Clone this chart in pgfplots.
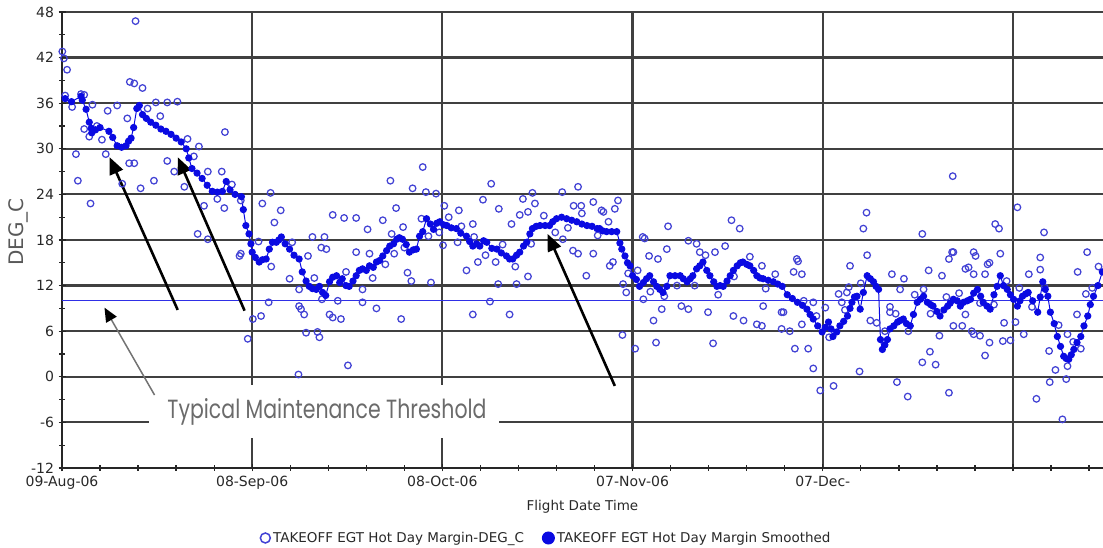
\documentclass[border=0pt]{standalone}
\usepackage{pgfplots}
\pgfplotsset{compat=1.18}
\usepackage{pgfplotstable}
\usepackage{fontspec}
\setmainfont{DejaVu Sans}
\newfontfamily\pop{Poppins}
\usetikzlibrary{arrows.meta}
\definecolor{rawblue}{RGB}{66,66,212}
\definecolor{smblue}{RGB}{10,10,226}
\definecolor{gridc}{RGB}{64,64,64}
\definecolor{txt}{RGB}{40,40,40}

\pgfplotstableread{
x y
0.05 42.8
0.3 41.9
0.8 40.4
0.5 37.0
1.6 35.5
3.0 37.2
3.5 37.1
4.8 35.8
3.5 32.6
4.3 31.6
2.2 29.3
2.5 25.8
4.5 22.8
7.2 35.0
8.7 35.7
10.3 34.0
10.7 38.8
11.4 38.6
12.7 38.0
11.6 46.8
6.9 29.3
10.6 28.1
11.4 28.1
9.5 25.4
12.4 24.8
14.5 25.8
14.8 36.1
16.6 36.1
18.2 36.2
16.6 28.4
17.7 27.0
19.3 25.0
21.6 30.3
25.7 32.2
25.2 27.0
22.4 22.5
25.6 22.2
21.4 18.8
23.0 18.1
28.0 15.9
28.2 23.2
31.6 22.8
32.9 24.2
34.5 21.9
33.5 20.3
28.2 16.2
32.6 9.8
31.4 8.0
30.1 7.6
29.3 5.0
35.9 12.9
38.8 15.9
39.5 18.4
41.4 18.4
40.9 17.0
41.7 16.8
42.7 21.3
44.5 20.9
46.4 20.9
48.2 19.4
50.6 20.6
51.8 25.8
52.7 22.2
53.8 19.7
56.9 27.6
55.3 24.8
56.7 20.8
46.4 16.4
48.5 16.2
52.4 16.2
37.4 11.5
37.4 9.3
38.2 8.2
42.2 8.2
44.0 7.6
38.5 5.8
40.3 5.9
40.6 5.2
37.3 0.3
45.1 1.5
43.5 10.0
47.4 11.5
47.4 9.8
49.6 9.0
53.5 7.6
54.5 13.7
55.1 12.6
37.7 8.9
42.7 7.8
57.4 24.3
59.0 24.1
60.3 22.5
62.6 21.9
64.8 20.1
66.4 23.3
67.7 25.4
68.9 22.1
70.9 20.1
72.2 21.3
72.7 23.4
73.5 21.7
74.2 24.2
74.6 22.8
78.9 24.3
81.4 25.0
80.7 22.5
81.9 22.5
83.8 23.0
85.1 21.9
79.0 18.1
80.6 16.6
81.4 16.2
83.8 16.2
82.7 13.3
60.1 17.3
62.4 17.7
63.8 14.0
65.6 15.1
68.4 15.1
73.5 13.2
58.2 12.4
68.8 12.2
71.7 12.2
67.5 9.9
64.8 8.2
70.6 8.2
87.7 23.2
87.2 22.1
85.4 21.7
95.6 19.8
91.9 18.2
98.8 17.9
100.1 17.5
100.6 16.4
95.4 16.8
92.6 15.9
94.0 15.5
103.0 16.4
104.6 17.2
105.6 20.6
106.9 19.5
86.9 15.1
86.4 14.6
88.5 12.2
89.0 11.1
91.7 10.2
94.6 8.9
97.7 9.3
98.8 8.9
101.9 8.5
105.9 8.0
107.5 7.4
109.6 6.9
110.6 9.3
110.4 14.6
113.5 8.5
93.3 7.4
88.4 5.5
90.4 3.7
93.7 4.5
102.7 4.4
113.5 6.3
91.6 18.4
140.5 26.4
126.9 21.6
126.4 19.5
135.7 18.8
127.0 16.0
115.9 15.5
115.4 13.8
116.7 13.5
124.3 14.6
130.9 13.5
132.8 12.9
132.2 11.5
136.7 14.0
138.8 13.3
140.4 16.4
139.9 15.5
135.9 11.5
130.6 8.5
127.5 7.4
128.5 7.1
122.5 10.9
123.0 9.8
124.1 11.8
113.8 8.5
114.8 6.0
116.7 6.9
118.5 9.8
120.4 9.1
115.6 3.7
117.7 3.7
118.5 1.1
119.6 -1.8
121.7 -1.2
125.8 0.7
131.7 -0.7
133.4 -2.6
139.9 -2.1
135.7 1.9
136.9 3.3
137.8 1.6
138.4 5.4
142.5 14.2
147.2 20.1
147.8 19.5
150.7 22.3
154.9 19.0
140.6 16.4
143.8 16.4
148.0 16.2
154.3 15.7
161.7 16.4
143.0 14.4
143.8 13.5
146.3 15.0
145.6 13.5
154.3 14.1
152.5 13.5
160.2 13.8
161.5 10.9
160.1 8.2
142.5 8.2
142.0 6.7
143.5 6.0
144.8 5.4
146.3 4.5
145.6 2.8
148.6 7.1
150.4 7.2
148.4 4.7
149.6 4.8
151.7 5.6
158.6 5.6
160.7 3.7
155.7 3.4
156.7 0.9
155.8 -0.7
158.4 -0.3
153.7 -2.9
157.8 -5.6
158.6 1.4
110.4 6.7
116.1 15.2
140.6 6.7
143.8 5.6
130.6 9.2
123.8 11.1
144.1 15.9
146.0 14.8
5.5 33.0
6.3 31.2
13.5 35.3
15.5 34.3
19.8 31.3
20.8 29.0
23.0 27.0
24.5 23.4
26.8 25.3
31.0 17.8
33.0 14.5
36.3 17.7
39.8 13.0
41.0 10.2
44.8 13.8
49.0 13.0
51.0 14.8
52.0 18.8
54.0 17.0
57.8 18.5
59.5 19.0
61.0 21.0
63.0 19.8
65.0 18.4
66.8 16.0
69.5 17.4
71.5 14.5
74.0 17.5
76.0 21.2
77.8 19.0
79.8 19.6
82.0 21.5
84.5 18.6
86.2 20.4
89.3 13.6
90.8 14.0
92.8 11.2
95.0 10.6
97.0 12.0
99.8 12.0
101.5 16.0
103.5 10.8
106.0 13.2
108.5 15.8
111.0 11.6
112.5 13.5
117.0 10.0
119.0 8.0
121.0 5.2
123.5 8.8
126.0 12.3
129.8 6.0
131.5 8.3
133.5 6.0
134.5 10.8
137.0 8.3
139.5 10.5
141.5 11.0
144.8 9.7
147.0 9.5
149.0 12.6
151.0 11.7
153.0 9.2
155.0 11.8
157.2 6.8
159.5 4.6
162.5 11.7
163.5 14.5
}\rawdata

\pgfplotstableread{
x y
0.5 36.6
1.5 36.2
3.0 36.9
3.2 36.4
3.8 35.2
4.3 33.5
4.6 32.7
4.7 32.1
5.3 32.5
6.0 32.8
7.4 32.3
8.0 31.5
8.7 30.4
9.4 30.2
10.1 30.4
10.5 31.0
10.9 31.4
11.3 32.8
11.8 35.3
12.2 35.7
12.7 34.5
13.3 34.0
14.0 33.5
14.8 33.1
15.6 32.6
16.4 32.3
17.2 31.9
18.0 31.4
18.8 30.9
19.6 30.0
20.0 28.8
20.5 27.4
21.3 26.8
22.1 26.1
22.9 25.2
23.7 24.4
24.5 24.3
25.3 24.4
25.9 25.7
26.5 24.6
27.3 24.0
28.3 23.7
28.6 22.0
29.0 19.9
29.5 18.8
29.8 17.5
30.0 16.4
30.5 15.7
31.1 15.1
31.6 15.4
32.2 15.5
32.7 16.8
33.2 17.7
33.8 17.7
34.2 18.0
34.6 18.4
35.2 17.5
35.9 16.8
36.6 16.0
37.4 15.5
37.9 13.8
38.5 12.6
39.0 11.9
39.5 11.6
40.1 11.5
40.6 11.9
41.1 11.1
41.6 10.7
42.2 12.5
42.7 13.1
43.3 13.3
43.8 12.4
44.2 12.9
44.8 12.0
45.3 11.9
45.9 12.6
46.4 13.3
46.9 14.0
47.4 14.2
48.0 14.0
48.5 14.6
49.1 14.4
49.6 15.1
50.1 15.3
50.6 15.9
51.2 16.6
51.7 17.2
52.3 17.5
52.8 18.1
53.2 18.3
53.7 18.1
54.3 17.4
54.8 16.4
55.4 16.7
55.9 16.8
56.4 18.5
56.9 19.1
57.5 20.8
58.1 20.1
58.6 19.4
59.1 20.2
59.6 20.4
60.2 20.0
60.7 19.9
61.4 19.6
62.2 19.5
62.9 18.9
63.8 18.5
64.3 17.8
64.8 17.2
65.4 17.5
65.9 17.2
66.5 17.9
67.0 17.7
67.8 16.9
68.6 16.8
69.3 16.3
70.1 15.9
70.6 15.5
71.1 15.5
71.7 16.0
72.2 16.4
72.8 17.2
73.3 17.7
73.8 18.8
74.2 19.5
74.8 19.8
75.4 19.9
76.2 19.9
76.9 19.9
77.4 20.4
78.0 20.8
78.8 21.0
79.6 20.8
80.4 20.6
81.2 20.4
82.0 20.1
82.8 19.9
83.6 19.8
84.4 19.5
84.8 19.5
85.3 19.2
85.9 19.1
86.7 19.1
87.5 19.1
88.0 17.6
88.3 16.8
88.8 15.9
89.2 15.0
89.6 14.6
90.0 13.3
90.6 12.8
91.1 11.9
91.7 12.4
92.2 12.9
92.7 13.3
93.3 12.5
93.8 11.9
94.3 11.5
94.8 11.1
95.4 11.9
95.9 13.3
96.7 13.3
97.5 13.3
98.0 12.9
98.6 12.5
99.1 12.9
99.5 13.3
100.1 14.2
100.6 14.6
101.1 15.1
101.7 14.0
102.2 13.3
102.8 12.5
103.3 11.9
103.8 12.0
104.3 11.9
104.9 12.6
105.4 13.3
105.9 14.0
106.5 14.6
107.0 15.0
107.4 15.1
108.0 14.8
108.5 14.6
109.1 14.0
109.6 13.3
110.1 13.0
110.6 12.9
111.4 12.7
112.2 12.5
112.9 12.2
113.6 11.9
114.4 10.8
115.2 10.3
116.0 9.8
116.8 9.4
117.5 8.9
118.0 8.2
118.5 7.6
119.2 6.7
119.9 5.9
120.4 6.5
120.9 7.2
121.3 6.3
121.6 5.3
122.2 5.9
122.7 6.7
123.3 7.3
123.9 8.0
124.3 9.0
124.6 9.8
125.0 10.5
125.4 10.6
125.9 8.9
126.4 11.1
127.0 13.3
127.5 12.9
128.0 12.5
128.4 11.9
128.8 11.5
129.1 4.9
129.4 3.6
129.8 4.2
130.2 4.9
130.6 6.3
131.2 6.7
131.8 7.2
132.2 7.4
132.7 7.6
133.2 7.0
133.8 6.7
134.3 8.2
134.9 9.8
135.4 10.2
135.9 10.6
136.5 9.8
137.0 9.5
137.4 9.3
138.0 8.6
138.5 8.0
139.1 8.8
139.7 9.3
140.1 9.7
140.6 10.2
141.2 10.0
141.7 9.3
142.2 9.8
142.8 10.0
143.3 10.2
143.8 11.0
144.4 11.5
144.9 10.6
145.3 9.8
145.9 9.3
146.4 8.9
147.0 10.8
147.5 11.9
148.0 13.3
148.5 12.0
149.1 11.5
149.6 10.8
150.1 10.2
150.7 9.3
151.1 10.0
151.5 10.6
152.0 10.9
152.4 11.1
153.1 10.0
153.9 8.5
154.3 10.5
154.7 12.5
155.1 11.5
155.5 10.6
155.9 8.5
156.5 7.0
157.0 5.3
157.5 4.0
158.0 2.7
158.4 2.4
158.8 2.3
159.2 2.9
159.6 3.6
160.1 4.5
160.7 5.3
161.2 6.7
161.8 8.0
162.2 9.5
162.7 10.6
163.4 12.0
164.1 13.8
}\smoothdata

\begin{document}
\begin{tikzpicture}
\useasboundingbox (0,0) rectangle (1103pt,548pt);
\begin{axis}[
  at={(62pt,80pt)}, anchor=south west,
  width=1041pt, height=456pt, scale only axis,
  xmin=0, xmax=164.2, ymin=-12, ymax=48,
  axis x line=bottom, axis y line=left,
  axis line style={-, black!85, line width=1.6pt},
  xtick={0,30,60,90,120,150},
  xticklabels={09-Aug-06,08-Sep-06,08-Oct-06,07-Nov-06,07-Dec-,{}},
  minor xtick={6,12,18,24,36,42,48,54,66,72,78,84,96,102,108,114,126,132,138,144,156,162},
  ytick={-12,-6,0,6,12,18,24,30,36,42,48},
  minor ytick={-9,-3,3,9,15,21,27,33,39,45},
  grid=major, major grid style={gridc, line width=2.2pt},
  tick style={black!85, line width=1.3pt},
  major tick length=7pt, minor tick length=6pt, tick align=center,
  /pgf/number format/assume math mode=true,
  ticklabel style={font=\fontsize{14}{14}\selectfont, text=txt},
  xticklabel style={yshift=-1pt},
  yticklabel style={xshift=-1pt},
  xlabel={Flight Date Time},
  xlabel style={font=\fontsize{13.5}{13.5}\selectfont, text=txt,
    at={(axis description cs:0.5,-0.0855)}, anchor=center},
  ylabel={DEG\_C},
  ylabel style={font=\fontsize{20}{20}\selectfont, text=black!65,
    at={(axis description cs:-0.0423,0.5175)}, anchor=center},
  legend style={at={(axis description cs:0.465,-0.1535)}, anchor=center,
    legend columns=2, draw=none, fill=none,
    font=\fontsize{13.5}{13.5}\selectfont, text=txt,
    /tikz/every even column/.append style={column sep=16pt}},
  clip=true,
]
\addplot[smblue!85, line width=1pt, forget plot] coordinates {(0,10) (164.2,10)};
\addplot[only marks, mark=o, rawblue, mark size=3.3pt, mark options={line width=1.25pt},
  legend image code/.code={\draw[rawblue, line width=1.5pt] (0pt,0pt) circle (5pt);}]
  table[x=x,y=y] {\rawdata};
\addlegendentry{TAKEOFF EGT Hot Day Margin-DEG\_C}
\addplot[smblue, line width=1pt, mark=*, mark size=3.1pt, mark options={fill=smblue, draw=smblue},
  legend image code/.code={\fill[smblue] (0pt,0pt) circle (6pt);}]
  table[x=x,y=y] {\smoothdata};
\addlegendentry{TAKEOFF EGT Hot Day Margin Smoothed}

\fill[white] (axis cs:13.8,-1.1) rectangle (axis cs:69.0,-8.05);
\node[text=black!58, inner sep=0pt] at (axis cs:41.8,-4.6)
  {\resizebox{319pt}{20pt}{\pop Typical Maintenance Threshold}};

\draw[black, line width=2.6pt, -{Triangle[length=17pt,width=14pt]}]
  (axis cs:18.25,8.8) -- (axis cs:7.5,28.9);
\draw[black, line width=2.6pt, -{Triangle[length=17pt,width=14pt]}]
  (axis cs:28.8,8.7) -- (axis cs:18.25,28.9);
\draw[black, line width=2.6pt, -{Triangle[length=17pt,width=14pt]}]
  (axis cs:87.2,-1.2) -- (axis cs:76.6,18.8);
\draw[black!55, line width=1.5pt, -{Triangle[length=14pt,width=12pt,color=black]}]
  (axis cs:14.6,-2.4) -- (axis cs:6.7,9.1);
\end{axis}
\end{tikzpicture}
\end{document}
